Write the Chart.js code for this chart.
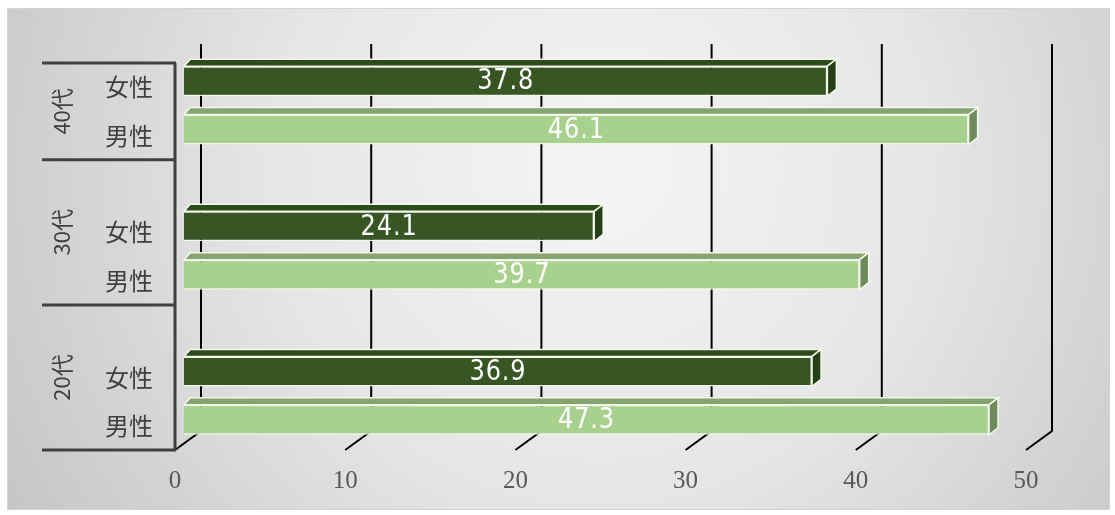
<!DOCTYPE html>
<html>
<head>
<meta charset="utf-8">
<script src="https://cdn.jsdelivr.net/npm/chart.js@4"></script>
<style>
  html, body { margin: 0; padding: 0; background: #fff; }
</style>
</head>
<body>
<canvas id="ageChart" width="1115" height="515"></canvas>
<script>
// データ
const groups = ['40代', '30代', '20代'];
const female = [37.8, 24.1, 36.9];
const male = [46.1, 39.7, 47.3];
const xTicks = [0, 10, 20, 30, 40, 50];

// 行を作る (グループの間に空行)
const rows = [];
const femaleRow = [];
const maleRow = [];
const groupSpan = [];
groups.forEach((g, i) => {
    const start = rows.length;
    if (i > 0) { rows.push(''); femaleRow.push(null); maleRow.push(null); }
    rows.push('女性'); femaleRow.push(female[i]); maleRow.push(null);
    rows.push('男性'); femaleRow.push(null); maleRow.push(male[i]);
    groupSpan.push([start, rows.length]);
});

// 3D offsets
const frontX = -9, frontY = 6, backX = 17, backY = -13;
const depthX = 9, depthY = 7;

const faceColors = [
    { front: '#375623', top: '#2d4a1b', side: '#273f17' },
    { front: '#a9d18e', top: '#86a470', side: '#6f8a5d' }
];

const chart3d = {
    id: 'chart3d',
    beforeDraw(chart) {
        const ctx = chart.ctx;
        ctx.save();
        ctx.fillStyle = '#ffffff';
        ctx.fillRect(0, 0, chart.width, chart.height);
        const grad = ctx.createRadialGradient(600, 170, 20, 600, 170, 700);
        grad.addColorStop(0, '#f4f4f4');
        grad.addColorStop(0.45, '#e6e6e6');
        grad.addColorStop(1, '#c4c4c4');
        ctx.fillStyle = grad;
        ctx.fillRect(7, 8, 1103, 502);
        ctx.strokeStyle = '#d4d4d4';
        ctx.lineWidth = 1;
        ctx.strokeRect(7.5, 8.5, 1102, 501);
        ctx.restore();
    },
    beforeDatasetsDraw(chart) {
        const ctx = chart.ctx;
        const xs = chart.scales.x;
        const area = chart.chartArea;
        ctx.save();
        ctx.strokeStyle = '#000000';
        ctx.lineWidth = 2;
        xTicks.forEach(v => {
            const px = xs.getPixelForValue(v);
            ctx.beginPath();
            ctx.moveTo(px + backX, area.top + backY);
            ctx.lineTo(px + backX, area.bottom + backY);
            ctx.lineTo(px + frontX, area.bottom + frontY);
            ctx.stroke();
        });
        ctx.restore();
    },
    afterDatasetsDraw(chart) {
        const ctx = chart.ctx;
        const ys = chart.scales.y;
        const area = chart.chartArea;
        ctx.save();
        // 上面と側面
        chart.data.datasets.forEach((ds, d) => {
            const c = faceColors[d];
            chart.getDatasetMeta(d).data.forEach((bar, i) => {
                if (ds.data[i] === null) return;
                const top = bar.y - bar.height / 2;
                const bottom = bar.y + bar.height / 2;
                ctx.strokeStyle = '#f2f9ea';
                ctx.lineWidth = 1.5;
                ctx.fillStyle = c.top;
                ctx.beginPath();
                ctx.moveTo(bar.base, top);
                ctx.lineTo(bar.base + depthX * 0.7, top - depthY);
                ctx.lineTo(bar.x + depthX, top - depthY);
                ctx.lineTo(bar.x, top);
                ctx.closePath();
                ctx.fill();
                ctx.stroke();
                ctx.fillStyle = c.side;
                ctx.beginPath();
                ctx.moveTo(bar.x, top);
                ctx.lineTo(bar.x + depthX, top - depthY);
                ctx.lineTo(bar.x + depthX, bottom - depthY);
                ctx.lineTo(bar.x, bottom);
                ctx.closePath();
                ctx.fill();
                ctx.stroke();
                // ラベル (縦長の書体に見せる)
                ctx.save();
                ctx.translate((bar.base + bar.x) / 2, bar.y + 1);
                ctx.scale(0.86, 1);
                ctx.fillStyle = '#ffffff';
                ctx.font = '28px "DejaVu Sans", sans-serif';
                ctx.letterSpacing = '1px';
                ctx.textAlign = 'center';
                ctx.textBaseline = 'middle';
                ctx.fillText(ds.data[i].toFixed(1), 0, 0);
                ctx.restore();
            });
        });

        // 左の軸
        const edge = i => ys.getPixelForValue(i - 0.5) + frontY;
        const axisX = area.left + frontX;
        ctx.strokeStyle = '#404040';
        ctx.lineWidth = 3;
        ctx.beginPath();
        ctx.moveTo(axisX, edge(0));
        ctx.lineTo(axisX, edge(rows.length));
        groupSpan.forEach(([s, e], gi) => {
            if (gi === 0) { ctx.moveTo(42, edge(s)); ctx.lineTo(axisX + 1, edge(s)); }
            ctx.moveTo(42, edge(e));
            ctx.lineTo(axisX + 1, edge(e));
        });
        ctx.stroke();

        ctx.fillStyle = '#404040';
        ctx.textAlign = 'center';
        ctx.textBaseline = 'middle';
        ctx.font = '24px "Noto Sans CJK JP"';
        rows.forEach((r, i) => {
            if (r) ctx.fillText(r, 129, ys.getPixelForValue(i) + frontY);
        });
        ctx.font = '22px "Noto Sans CJK JP"';
        groupSpan.forEach(([s, e], gi) => {
            const cy = (edge(s) + edge(e)) / 2;
            ctx.save();
            ctx.translate(62, cy);
            ctx.rotate(-Math.PI / 2);
            ctx.fillText(groups[gi], 0, 0);
            ctx.restore();
        });
        ctx.restore();
    }
};

const ctx = document.getElementById('ageChart').getContext('2d');
const ageChart = new Chart(ctx, {
    type: 'bar',
    data: {
        labels: rows,
        datasets: [{
            label: '女性',
            data: femaleRow,
            backgroundColor: faceColors[0].front,
            borderColor: '#f2f9ea',
            borderWidth: 1.5
        }, {
            label: '男性',
            data: maleRow,
            backgroundColor: faceColors[1].front,
            borderColor: '#f2f9ea',
            borderWidth: 1.5
        }]
    },
    options: {
        responsive: false,
        animation: false,
        indexAxis: 'y',
        grouped: false,
        barPercentage: 0.62,
        categoryPercentage: 1,
        layout: {
            padding: { left: 184, right: 80, top: 57, bottom: 0 }
        },
        plugins: {
            legend: { display: false },
            tooltip: { enabled: false }
        },
        scales: {
            x: {
                min: 0,
                max: 50,
                afterBuildTicks: s => { s.ticks = xTicks.map(v => ({ value: v })); },
                afterFit: s => { s.height = 71; },
                grid: { display: false, drawTicks: false },
                border: { display: false },
                ticks: {
                    labelOffset: frontX,
                    padding: 22,
                    color: '#595959',
                    font: { family: '"Liberation Serif", serif', size: 25 }
                }
            },
            y: {
                display: false,
                grid: { display: false }
            }
        }
    },
    plugins: [chart3d]
});
</script>
</body>
</html>
